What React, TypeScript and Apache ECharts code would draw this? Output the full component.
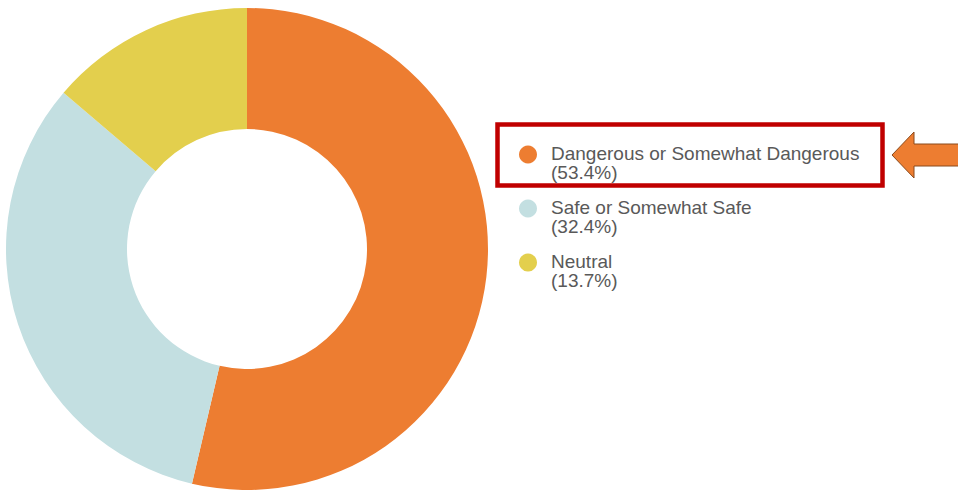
import React, { useEffect, useRef } from "react";
import * as echarts from "echarts";

const categories = ["Dangerous or Somewhat Dangerous", "Safe or Somewhat Safe", "Neutral"];
const values = [53.4, 32.4, 13.7];
const colors = ["#ED7D31", "#C3DFE1", "#E3CF4D"];

export default function App() {
  const ref = useRef<HTMLDivElement>(null);
  useEffect(() => {
    if (!ref.current) return;
    const chart = echarts.init(ref.current, null, { renderer: "svg" });
    const data = categories.map((name, i) => ({
      name,
      value: values[i],
      itemStyle: { color: colors[i] },
    }));
    chart.setOption({
      animation: false,
      legend: {
        orient: "vertical",
        left: 519,
        top: 127,
        padding: 0,
        itemWidth: 18,
        itemHeight: 18,
        itemGap: -1,
        icon: "circle",
        selectedMode: false,
        data: categories,
        formatter: (name: string) => {
          const i = categories.indexOf(name);
          return `{e|}\n{t|${name}}\n{t|(${values[i].toFixed(1)}%)}`;
        },
        textStyle: {
          fontSize: 19,
          fontFamily: "'Liberation Sans', Arial, sans-serif",
          color: "#595959",
          lineHeight: 19,
          padding: [0, 0, 0, 9],
          rich: {
            e: { lineHeight: 17, fontSize: 17 },
            t: {
              fontSize: 19,
              lineHeight: 19,
              color: "#595959",
              fontFamily: "'Liberation Sans', Arial, sans-serif",
            },
          },
        },
      },
      graphic: [
        {
          type: "rect",
          shape: { x: 497.5, y: 124.5, width: 385, height: 61 },
          style: { fill: "none", stroke: "#C00000", lineWidth: 4.5 },
          z: 10,
        },
        {
          type: "polygon",
          shape: {
            points: [
              [892, 155],
              [914, 132],
              [914, 144],
              [962, 144],
              [962, 166],
              [914, 166],
              [914, 178],
            ],
          },
          style: { fill: "#ED7D31", stroke: "#8A4A1C", lineWidth: 1 },
          z: 10,
        },
      ],
      series: [
        {
          type: "pie",
          center: [247, 249],
          radius: [120, 241],
          startAngle: 90,
          clockwise: true,
          label: { show: false },
          labelLine: { show: false },
          emphasis: { disabled: true },
          silent: true,
          itemStyle: { borderWidth: 0 },
          data,
        },
      ],
    });
    return () => chart.dispose();
  }, []);
  return (
    <div
      ref={ref}
      style={{ position: "absolute", left: 0, top: 0, width: 958, height: 491 }}
    />
  );
}
